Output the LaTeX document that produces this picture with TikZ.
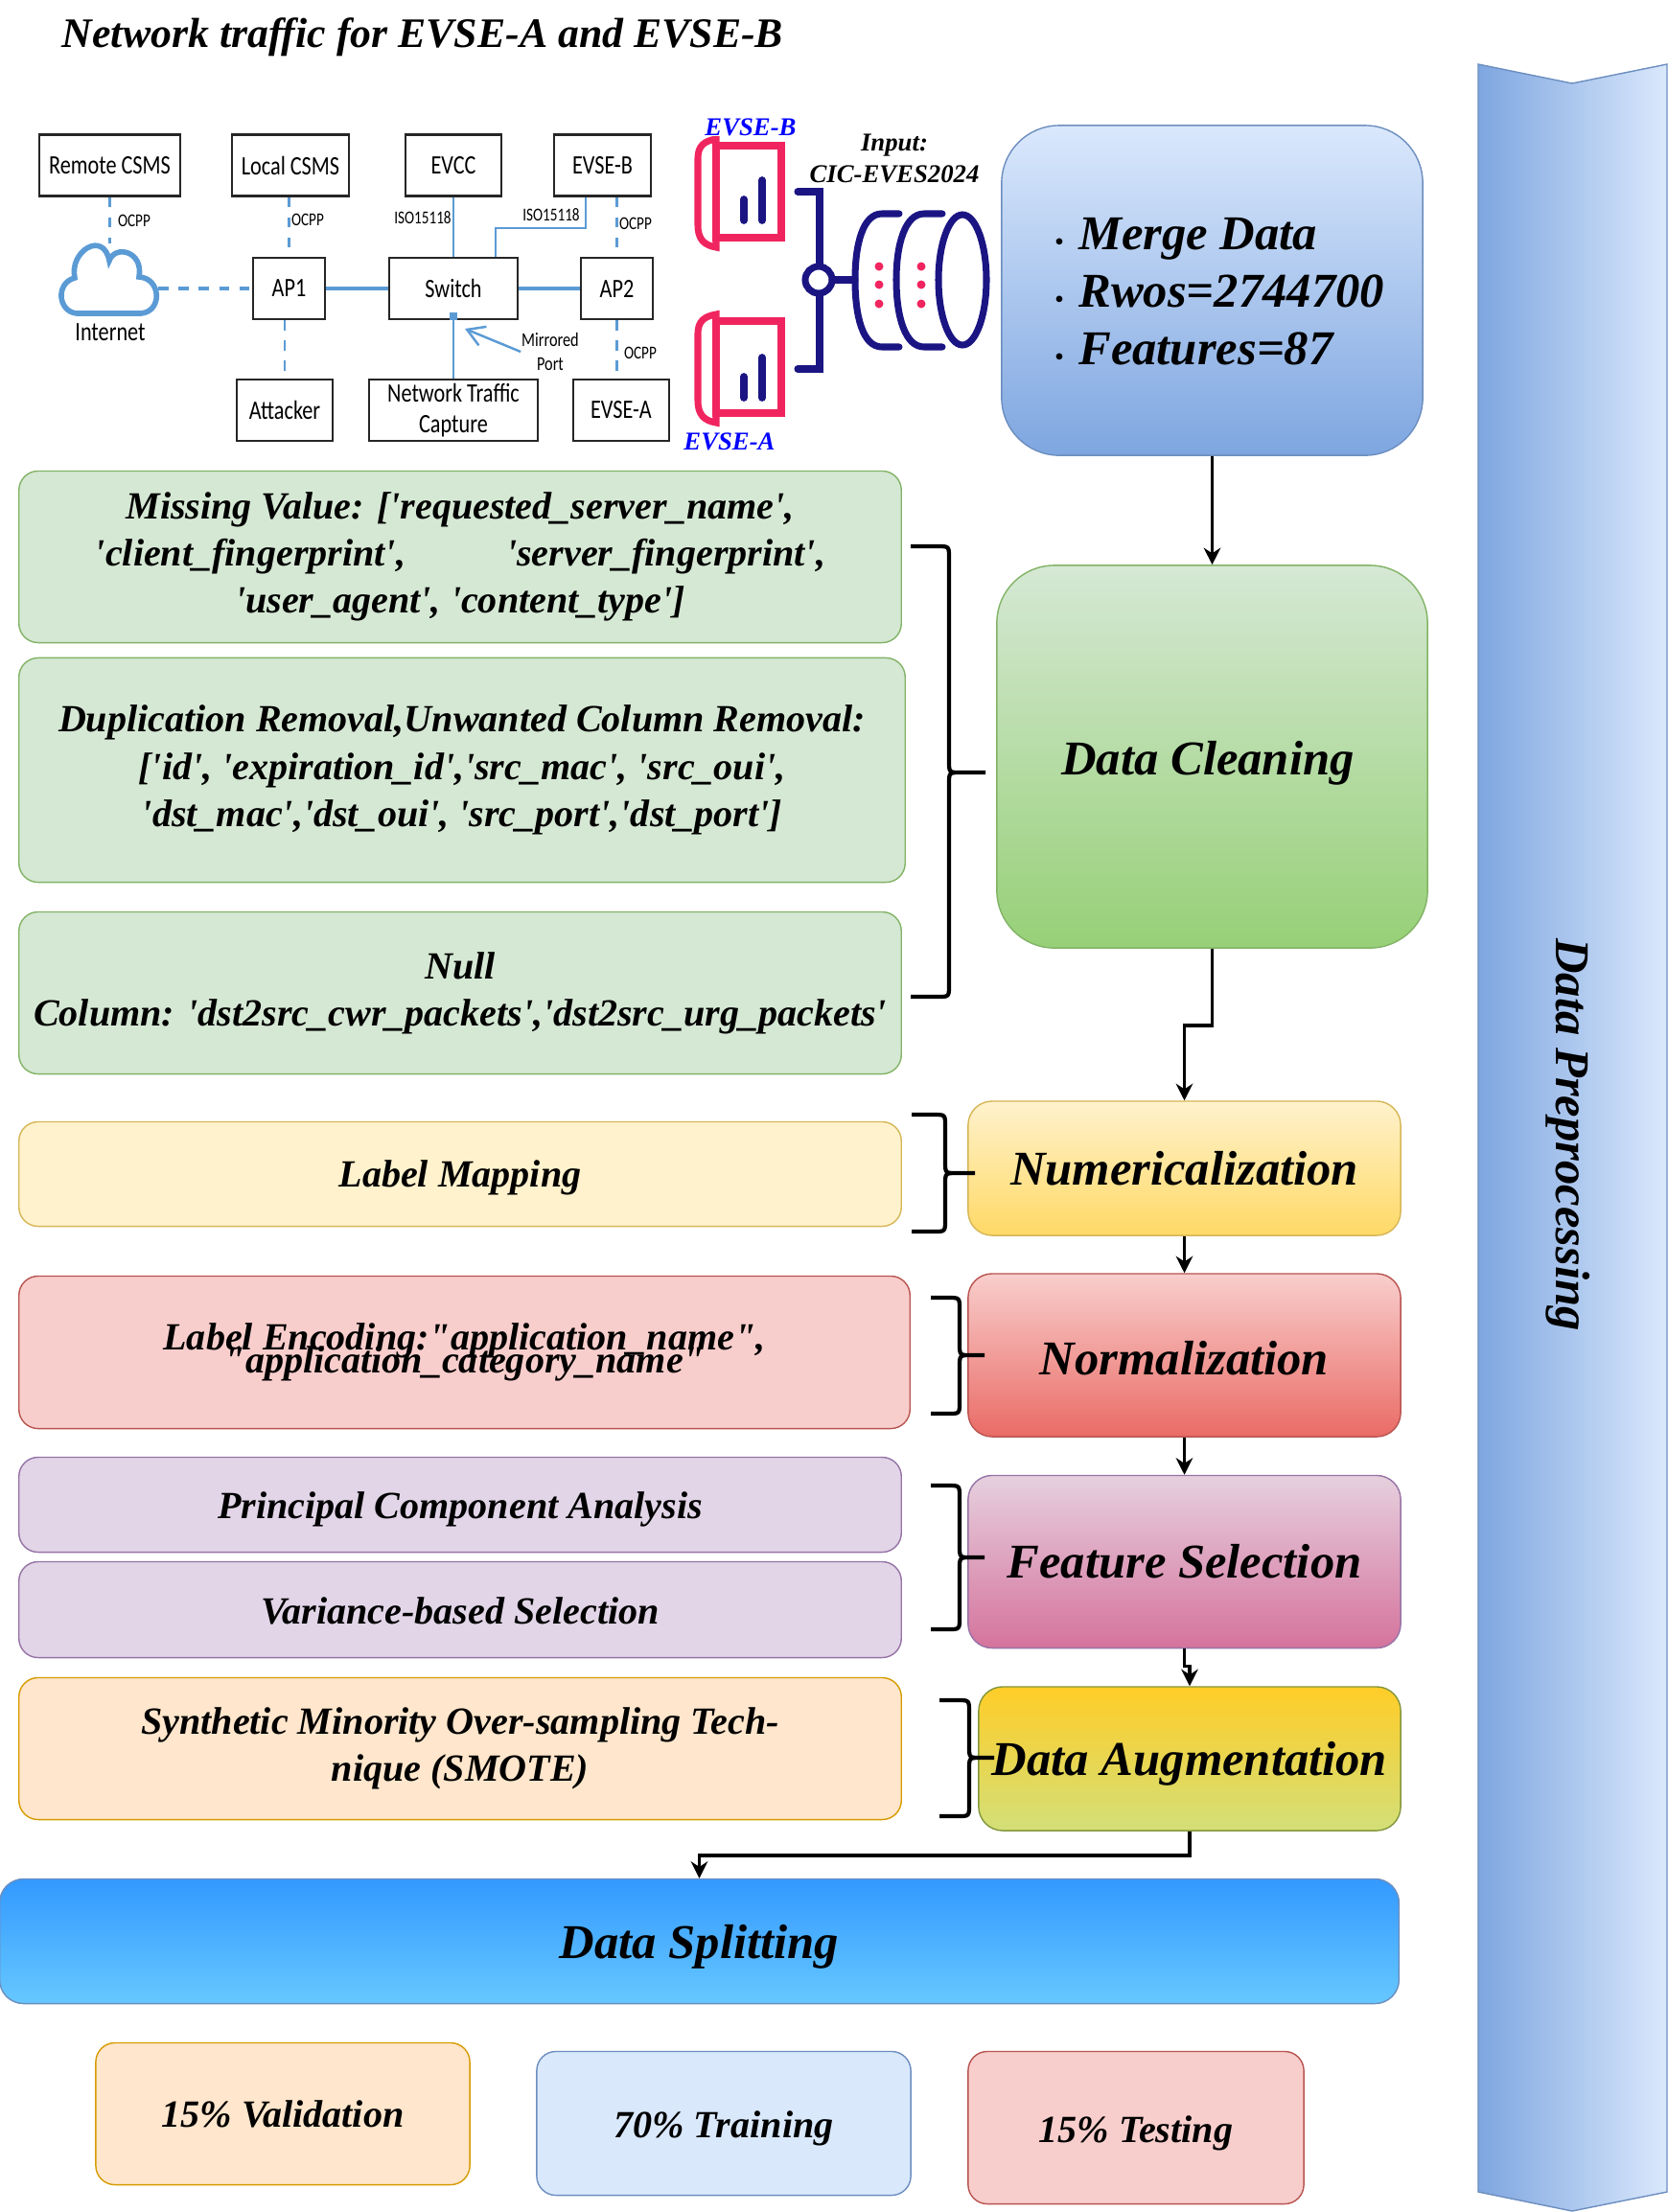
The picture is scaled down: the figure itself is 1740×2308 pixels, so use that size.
\documentclass[tikz,border=0pt]{standalone}
\usepackage{fontspec}
\newfontfamily\boxfont{Liberation Serif}
\newfontfamily\netfont[FakeStretch=0.8]{Carlito}
\usetikzlibrary{arrows.meta}
\definecolor{netblue}{HTML}{5B9BD5}
\definecolor{iconpink}{HTML}{F0255F}
\definecolor{iconnavy}{HTML}{1B1583}
\definecolor{blueline}{HTML}{6C8EBF}
\definecolor{bluefill}{HTML}{DAE8FC}
\definecolor{bluedark}{HTML}{7EA6E0}
\definecolor{greenline}{HTML}{82B366}
\definecolor{greenfill}{HTML}{D5E8D4}
\definecolor{greendark}{HTML}{97D077}
\definecolor{yellowline}{HTML}{D6B656}
\definecolor{yellowfill}{HTML}{FFF2CC}
\definecolor{yellowdark}{HTML}{FFD966}
\definecolor{redline}{HTML}{B85450}
\definecolor{redfill}{HTML}{F8CECC}
\definecolor{reddark}{HTML}{EA6B66}
\definecolor{purpleline}{HTML}{9673A6}
\definecolor{purplefill}{HTML}{E1D5E7}
\definecolor{pinkfill}{HTML}{E6D0DE}
\definecolor{pinkdark}{HTML}{D5739D}
\definecolor{orangeline}{HTML}{D79B00}
\definecolor{orangefill}{HTML}{FFE6CC}
\definecolor{augtop}{HTML}{FFCD28}
\definecolor{augbottom}{HTML}{D3DF78}
\definecolor{augline}{HTML}{82963C}
\definecolor{splittop}{HTML}{3399FF}
\definecolor{splitbottom}{HTML}{66C8FF}
\tikzset{
  textdrop/.style={execute at begin node={\rule{0pt}{#1}}},
  lefttext/.style={font=\boxfont\fontsize{11.4}{14}\selectfont\bfseries\itshape, align=center, inner sep=0pt, rounded corners=0.2cm},
  mainbox/.style={font=\boxfont\fontsize{14.4}{17}\selectfont\bfseries\itshape, align=center, inner sep=0pt},
  netbox/.style={draw=black!85, line width=0.6pt, fill=white, inner sep=0pt, font=\netfont\fontsize{7.9}{9.3}\selectfont, align=center},
  netlabel/.style={inner sep=0pt, font=\netfont\fontsize{5.4}{7}\selectfont},
  netline/.style={draw=netblue, line width=0.7pt},
  netdash/.style={draw=netblue, line width=0.7pt, dashed},
  flowarrow/.style={draw=black, line width=1pt, -{Stealth[length=5pt,width=5pt]}},
  bracelines/.style={draw=black, line width=1.2pt},
  iconpinkline/.style={draw=iconpink, line width=2pt},
  iconnavyline/.style={draw=iconnavy, line width=2pt, line cap=round},
  inputlabel/.style={inner sep=0pt, font=\boxfont\fontsize{7.6}{9}\selectfont\bfseries\itshape}
}
\newcommand{\sidebrace}[6]{%
  \draw[bracelines] (#1,#4) -- (#2-12,#4) .. controls (#2,#4) .. (#2,#4+12) -- (#2,#5-12)
    .. controls (#2,#5) .. (#2+12,#5) -- (#3,#5) (#2+12,#5) .. controls (#2,#5) .. (#2,#5+12)
    -- (#2,#6-12) .. controls (#2,#6) .. (#2-12,#6) -- (#1,#6);}
\begin{document}
\begin{tikzpicture}[x=0.01cm,y=-0.01cm]
\useasboundingbox (0,0) rectangle (1740,2308);

% Title
\node[inner sep=0pt, font=\boxfont\fontsize{12.45}{15}\selectfont\bfseries\itshape] (title) at (441,39) {Network traffic for EVSE-A and EVSE-B};

% Side banner
\shade[left color=bluedark, right color=bluefill, draw=blueline]
  (1542,67) -- (1640,87) -- (1739,67) -- (1739,2287) -- (1640,2307) -- (1542,2287) -- cycle;
\node[mainbox, rotate=-90] (bannertext) at (1636,1184) {Data Preprocessing};

% Network layout
\node[netbox, minimum width=1.47cm, minimum height=0.64cm] (remote) at (114.5,172.5) {Remote CSMS};
\node[netbox, minimum width=1.22cm, minimum height=0.64cm] (local) at (303,172.5) {Local CSMS};
\node[netbox, minimum width=1cm, minimum height=0.64cm] (evcc) at (473,172.5) {EVCC};
\node[netbox, minimum width=1.01cm, minimum height=0.64cm] (evseb) at (628.5,172.5) {EVSE-B};
\node[netbox, minimum width=0.75cm, minimum height=0.64cm] (ap1) at (301.5,301) {AP1};
\node[netbox, minimum width=1.34cm, minimum height=0.64cm] (switch) at (473,301) {Switch};
\node[netbox, minimum width=0.75cm, minimum height=0.64cm] (ap2) at (643.5,301) {AP2};
\node[netbox, minimum width=1cm, minimum height=0.64cm] (attacker) at (297,428) {Attacker};
\node[netbox, minimum width=1.76cm, minimum height=0.64cm] (traffic) at (473,428) {Network Traffic\\Capture};
\node[netbox, minimum width=1cm, minimum height=0.64cm] (evsea) at (648,428) {EVSE-A};
\node[minimum width=1cm, minimum height=0.74cm, inner sep=0pt] (cloud) at (114.5,292) {};
\node[netbox, draw=none, fill=none] (internet) at (115,347) {Internet};
\node[netbox, draw=none, fill=none, font=\netfont\fontsize{5.8}{7.1}\selectfont] (mirrored) at (574,367) {Mirrored\\Port};
\coordinate (mirrortip) at (485,343);

% Cloud
\draw[netblue, line width=1.6pt, fill=white] (80,327) .. controls (60,325) and (58,295) .. (78,290)
  .. controls (72,262) and (108,240) .. (114,272) .. controls (120,255) and (150,262) .. (145,289)
  .. controls (168,290) and (170,325) .. (147,327) -- cycle;

% Network links
\draw[netdash] (remote.south) -- (cloud.north);
\draw[netdash, line width=1pt] (cloud.east |- ap1.west) -- (ap1.west);
\draw[netdash] (ap1.north |- local.south) -- (ap1.north);
\draw[netdash] (ap1.south -| attacker.north) -- (attacker.north);
\draw[netline, line width=1pt] (ap1.east) -- (switch.west);
\draw[netline, line width=1pt] (switch.east) -- (ap2.west);
\draw[netline] (evcc.south) -- (switch.north);
\draw[netline] (switch.south) -- (traffic.north);
\draw[netline, line width=0.8pt] ([xshift=-0.175cm]evseb.south) |- (517,238) -- (switch.north -| 517,0);
\draw[netdash] (ap2.north |- evseb.south) -- (ap2.north);
\draw[netdash] (ap2.south) -- (ap2.south |- evsea.north);
\draw[netline, -{Straight Barb[length=5pt,width=6pt]}] (mirrored.west) -- (mirrortip);
\node[fill=netblue, minimum size=0.08cm, inner sep=0pt] (port) at (473,330) {};

% Link labels
\node[netlabel] (ocpp1) at (140,230) {OCPP};
\node[netlabel] (ocpp2) at (321,229) {OCPP};
\node[netlabel] (iso1) at (441,227) {ISO15118};
\node[netlabel] (iso2) at (575,224) {ISO15118};
\node[netlabel] (ocpp3) at (663,233) {OCPP};
\node[netlabel] (ocpp4) at (668,368) {OCPP};

% Two book icons
\draw[iconpinkline] (747,152) rectangle (815,248);
\draw[iconpinkline, line cap=round] (747,145) .. controls (735,147) and (728,152) .. (728,165) -- (728,235) .. controls (728,250) and (735,256) .. (747,258) -- cycle;
\draw[iconnavyline, line width=2.2pt] (776,208) -- (776,230);
\draw[iconnavyline, line width=2.2pt] (795,188) -- (795,230);
\draw[iconpinkline] (747,335) rectangle (815,431);
\draw[iconpinkline, line cap=round] (747,328) .. controls (735,330) and (728,335) .. (728,348) -- (728,418) .. controls (728,433) and (735,439) .. (747,441) -- cycle;
\draw[iconnavyline, line width=2.2pt] (776,393) -- (776,415);
\draw[iconnavyline, line width=2.2pt] (795,373) -- (795,415);

% Bracket and database icon
\draw[iconnavyline] (832,200) -- (855,200) -- (855,385) -- (832,385);
\draw[iconnavyline, fill=white] (854,292) circle (14);
\draw[iconnavyline] (868,292) -- (892,292);
\draw[iconnavyline] (938,223) -- (920,223) .. controls (900,223) and (892,255) .. (892,292) .. controls (892,330) and (900,362) .. (920,362) -- (938,362);
\draw[iconnavyline] (983,223) -- (964,223) .. controls (944,223) and (935,255) .. (935,292) .. controls (935,330) and (944,362) .. (964,362) -- (983,362);
\draw[iconnavyline] (1004,292) ellipse (25 and 68);
\fill[iconpink] (917,278) circle (4.5) (917,297) circle (4.5) (917,317) circle (4.5);
\fill[iconpink] (961,278) circle (4.5) (961,297) circle (4.5) (961,317) circle (4.5);

% Icon labels
\node[inputlabel, text=blue, fill=white, inner xsep=1pt] (evsebtext) at (783,133) {EVSE-B};
\node[inputlabel, text=blue] (evseatext) at (761,461) {EVSE-A};
\node[inputlabel, align=center, font=\boxfont\fontsize{7.6}{9.4}\selectfont\bfseries\itshape] (inputtext) at (933,165) {Input:\\CIC-EVES2024};

% Right column
\node[mainbox, draw=blueline, top color=bluefill, bottom color=bluedark, rounded corners=0.6cm, minimum width=4.39cm, minimum height=3.44cm] (merge) at (1264.5,303) {};
\node[inner sep=0pt, anchor=west, align=left, font=\boxfont\fontsize{14.4}{17}\selectfont\bfseries\itshape] (mergetext) at (1100,304) {{\scriptsize\textbullet}\hspace{1.6mm}Merge Data\\{\scriptsize\textbullet}\hspace{1.6mm}Rwos=2744700\\{\scriptsize\textbullet}\hspace{1.6mm}Features=87};
\node[mainbox, textdrop=14pt, draw=greenline, top color=greenfill, bottom color=greendark, rounded corners=0.6cm, minimum width=4.49cm, minimum height=3.99cm] (cleaning) at (1264.5,789.5) {Data Cleaning\hspace*{0.9mm}};
\node[mainbox, draw=yellowline, top color=yellowfill, bottom color=yellowdark, rounded corners=0.25cm, minimum width=4.51cm, minimum height=1.4cm] (numeric) at (1235.5,1219) {Numericalization};
\node[mainbox, textdrop=11.6pt, draw=redline, top color=redfill, bottom color=reddark, rounded corners=0.25cm, minimum width=4.51cm, minimum height=1.7cm] (normal) at (1235.5,1414) {Normalization};
\node[mainbox, draw=purpleline, top color=pinkfill, bottom color=pinkdark, rounded corners=0.25cm, minimum width=4.51cm, minimum height=1.8cm] (feature) at (1235.5,1629.5) {Feature Selection};
\node[mainbox, textdrop=12.8pt, draw=augline, top color=augtop, bottom color=augbottom, rounded corners=0.25cm, minimum width=4.4cm, minimum height=1.5cm] (augment) at (1241,1835) {Data Augmentation};
\node[mainbox, textdrop=13.4pt, draw=blueline, top color=splittop, bottom color=splitbottom, rounded corners=0.25cm, minimum width=14.59cm, minimum height=1.3cm] (split) at (729.5,2025.5) {Data Splitting};

% Left column
\node[lefttext, textdrop=13.3pt, draw=greenline, fill=greenfill, minimum width=9.2cm, minimum height=1.79cm] (missing) at (480,581) {Missing Value: ['requested\_server\_name',\\'client\_fingerprint',\hspace{1.05cm}'server\_fingerprint',\\'user\_agent', 'content\_type']};
\node[lefttext, textdrop=14pt, draw=greenline, fill=greenfill, minimum width=9.24cm, minimum height=2.34cm] (duplicate) at (482,803.5) {Duplication Removal,Unwanted Column Removal:\\{}['id', 'expiration\_id','src\_mac', 'src\_oui',\\'dst\_mac','dst\_oui', 'src\_port','dst\_port']};
\node[lefttext, textdrop=14pt, draw=greenline, fill=greenfill, minimum width=9.2cm, minimum height=1.69cm] (nullcol) at (480,1036) {Null\\Column: 'dst2src\_cwr\_packets','dst2src\_urg\_packets'};
\node[lefttext, textdrop=10pt, draw=yellowline, fill=yellowfill, minimum width=9.2cm, minimum height=1.09cm] (mapping) at (480,1225) {Label Mapping};
\node[lefttext, textdrop=10.4pt, draw=redline, fill=redfill, minimum width=9.29cm, minimum height=1.59cm] (encoding) at (484.5,1411) {Label Encoding:"application\_name",\\[-7pt]"application\_category\_name"};
\node[lefttext, textdrop=10.5pt, draw=purpleline, fill=purplefill, minimum width=9.2cm, minimum height=0.99cm] (pca) at (480,1570) {Principal Component Analysis};
\node[lefttext, textdrop=8.5pt, draw=purpleline, fill=purplefill, minimum width=9.2cm, minimum height=1cm] (variance) at (480,1679.5) {Variance-based Selection};
\node[lefttext, textdrop=14.5pt, draw=orangeline, fill=orangefill, minimum width=9.2cm, minimum height=1.48cm] (smote) at (480,1824.5) {Synthetic Minority Over-sampling Tech-\\nique (SMOTE)};

% Split results
\node[lefttext, draw=orangeline, fill=orangefill, minimum width=3.9cm, minimum height=1.48cm] (valid) at (295,2205.5) {15\% Validation};
\node[lefttext, textdrop=11pt, draw=blueline, fill=bluefill, minimum width=3.9cm, minimum height=1.5cm] (train) at (755,2215.5) {70\% Training};
\node[lefttext, textdrop=11pt, draw=redline, fill=redfill, minimum width=3.5cm, minimum height=1.59cm] (test) at (1185,2220) {15\% Testing};

% Braces
\sidebrace{950}{990}{1028}{570}{806}{1040}
\sidebrace{951}{986}{1017}{1163}{1224}{1285}
\sidebrace{971}{1001}{1027}{1354}{1414}{1475}
\sidebrace{971}{1001}{1027}{1550}{1625}{1700}
\sidebrace{980}{1011}{1037}{1774}{1834}{1895}

% Flow
\draw[flowarrow] (merge.south) -- (cleaning.north);
\draw[flowarrow] (cleaning.south) -- ++(0,80) -| (numeric.north);
\draw[flowarrow] (numeric.south) -- (normal.north);
\draw[flowarrow] (normal.south) -- (feature.north);
\draw[flowarrow] (feature.south) -- ++(0,18) -| (augment.north);
\draw[flowarrow] (augment.south) -- ++(0,25) -| (split.north);
\end{tikzpicture}
\end{document}
